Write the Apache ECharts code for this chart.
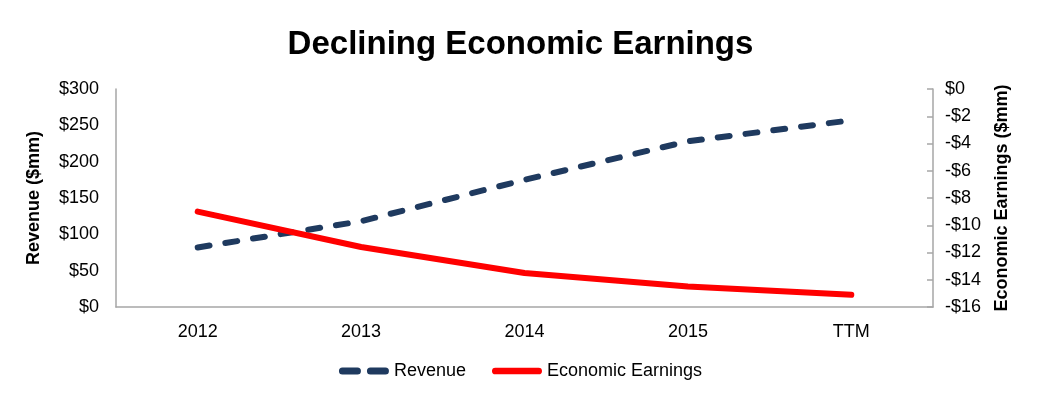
<!DOCTYPE html>
<html><head><meta charset="utf-8">
<script src="https://cdn.jsdelivr.net/npm/echarts@6/dist/echarts.min.js"></script>
<style>html,body{margin:0;padding:0;background:#fff}#c{width:1041px;height:405px}</style>
</head><body><div id="c"></div>
<script>
const categories = ['2012', '2013', '2014', '2015', 'TTM'];
const revenue = [82, 118, 175, 228, 257];
const economicEarnings = [-9.0, -11.6, -13.5, -14.5, -15.1];
const leftTicks = {min: 0, max: 300, interval: 50};
const rightTicks = {min: -16, max: 0, interval: 2};

const FONT = '"Liberation Sans", Arial, sans-serif';
const NAVY = '#1f3a5f';
const RED = '#ff0000';
const dashIcon = 'path://M3.5,0 H18.5 A3.5,3.5 0 0 1 18.5,7 H3.5 A3.5,3.5 0 0 1 3.5,0 Z M31.5,0 H46.5 A3.5,3.5 0 0 1 46.5,7 H31.5 A3.5,3.5 0 0 1 31.5,0 Z';
const solidIcon = 'path://M3.5,0 H48.5 A3.5,3.5 0 0 1 48.5,7 H3.5 A3.5,3.5 0 0 1 3.5,0 Z';

const chart = echarts.init(document.getElementById('c'));
chart.setOption({
  animation: false,
  textStyle: {fontFamily: FONT},
  title: {text: 'Declining Economic Earnings', left: 'center', top: 23,
    textStyle: {fontFamily: FONT, fontSize: 33, fontWeight: 'bold', color: '#000'}},
  grid: {left: 116, right: 108, top: 89, bottom: 98},
  legend: {bottom: 20, left: 'center', itemHeight: 7, itemGap: 26,
    textStyle: {fontFamily: FONT, fontSize: 18, color: '#000'},
    data: [
      {name: 'Revenue', icon: dashIcon, itemStyle: {color: NAVY}},
      {name: 'Economic Earnings', icon: solidIcon, itemStyle: {color: RED}}
    ],
    itemWidth: 50},
  xAxis: {type: 'category', data: categories, boundaryGap: true,
    axisLine: {lineStyle: {color: '#a6a6a6', width: 1.5}},
    axisTick: {show: false},
    axisLabel: {fontFamily: FONT, fontSize: 18, color: '#000', margin: 16}},
  yAxis: [
    {type: 'value', position: 'left', min: leftTicks.min, max: leftTicks.max, interval: leftTicks.interval,
      name: 'Revenue ($mm)', nameLocation: 'middle', nameGap: 73, nameRotate: 90,
      nameTextStyle: {fontFamily: FONT, fontSize: 18, fontWeight: 'bold', color: '#000'},
      axisLine: {show: true, lineStyle: {color: '#a6a6a6', width: 1.5}},
      axisTick: {show: false}, splitLine: {show: false},
      axisLabel: {fontFamily: FONT, fontSize: 18, color: '#000', margin: 17,
        formatter: v => '$' + v}},
    {type: 'value', position: 'right', min: rightTicks.min, max: rightTicks.max, interval: rightTicks.interval,
      name: 'Economic Earnings ($mm)', nameLocation: 'middle', nameGap: 60, nameRotate: 90,
      nameTextStyle: {fontFamily: FONT, fontSize: 18, fontWeight: 'bold', color: '#000'},
      axisLine: {show: true, lineStyle: {color: '#a6a6a6', width: 1.5}},
      axisTick: {show: true, inside: true, length: 6, lineStyle: {color: '#a6a6a6', width: 1.5}},
      splitLine: {show: false},
      axisLabel: {fontFamily: FONT, fontSize: 18, color: '#000', margin: 12,
        formatter: v => (v < 0 ? '-$' + (-v) : '$' + v)}}
  ],
  series: [
    {name: 'Revenue', type: 'line', yAxisIndex: 0, data: revenue, showSymbol: false, symbol: 'none',
      lineStyle: {color: NAVY, width: 6, type: [12, 16], cap: 'round'},
      itemStyle: {color: NAVY}},
    {name: 'Economic Earnings', type: 'line', yAxisIndex: 1, data: economicEarnings, showSymbol: false, symbol: 'none',
      lineStyle: {color: RED, width: 6, cap: 'round'},
      itemStyle: {color: RED}}
  ]
});
</script></body></html>
